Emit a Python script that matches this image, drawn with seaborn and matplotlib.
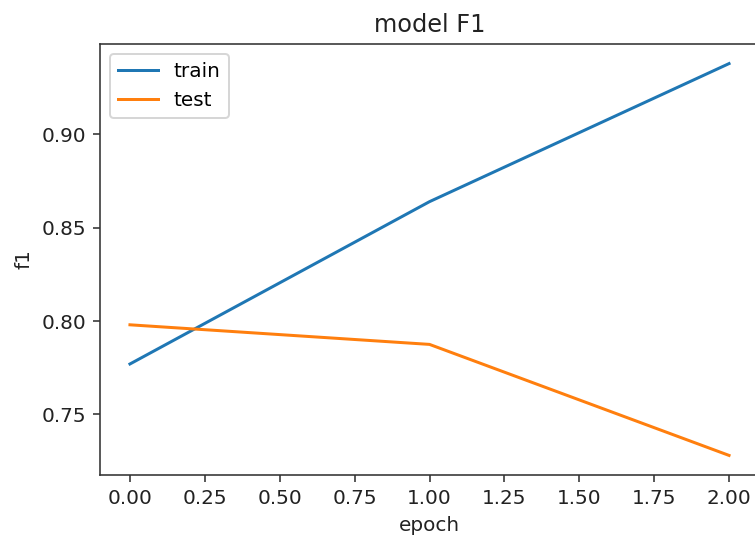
import matplotlib
matplotlib.use("Agg")
import matplotlib.pyplot as plt
import seaborn as sns
import pandas as pd

epochs = [0, 1, 2]
train_f1 = [0.777, 0.864, 0.938]
test_f1 = [0.798, 0.7875, 0.728]

df = pd.DataFrame({"epoch": epochs, "train": train_f1, "test": test_f1})

# figure scaled 2x from the classic 72 dpi notebook look
fig = plt.figure(figsize=(755 / 144, 535 / 144), dpi=144)
ax = fig.add_axes([100 / 755, 60 / 535, 659 / 755, 431 / 535])

sns.lineplot(data=df, x="epoch", y="train", ax=ax, color="#1f77b4", label="train")
sns.lineplot(data=df, x="epoch", y="test", ax=ax, color="#ff7f0e", label="test")

ax.set_title("model F1", color="#222222")
ax.set_xlabel("epoch", color="#222222")
ax.set_ylabel("f1", color="#222222")
ax.set_xticks([0, 0.25, 0.5, 0.75, 1.0, 1.25, 1.5, 1.75, 2.0])
ax.set_xticklabels([f"{t:.2f}" for t in ax.get_xticks()])
ax.set_yticks([0.75, 0.80, 0.85, 0.90])
ax.set_yticklabels(["0.75", "0.80", "0.85", "0.90"])
ax.tick_params(colors="#333333", labelcolor="#222222")
for s in ax.spines.values():
    s.set_color("#333333")
ax.legend(loc="upper left")

fig.savefig("out.png", dpi=144)
